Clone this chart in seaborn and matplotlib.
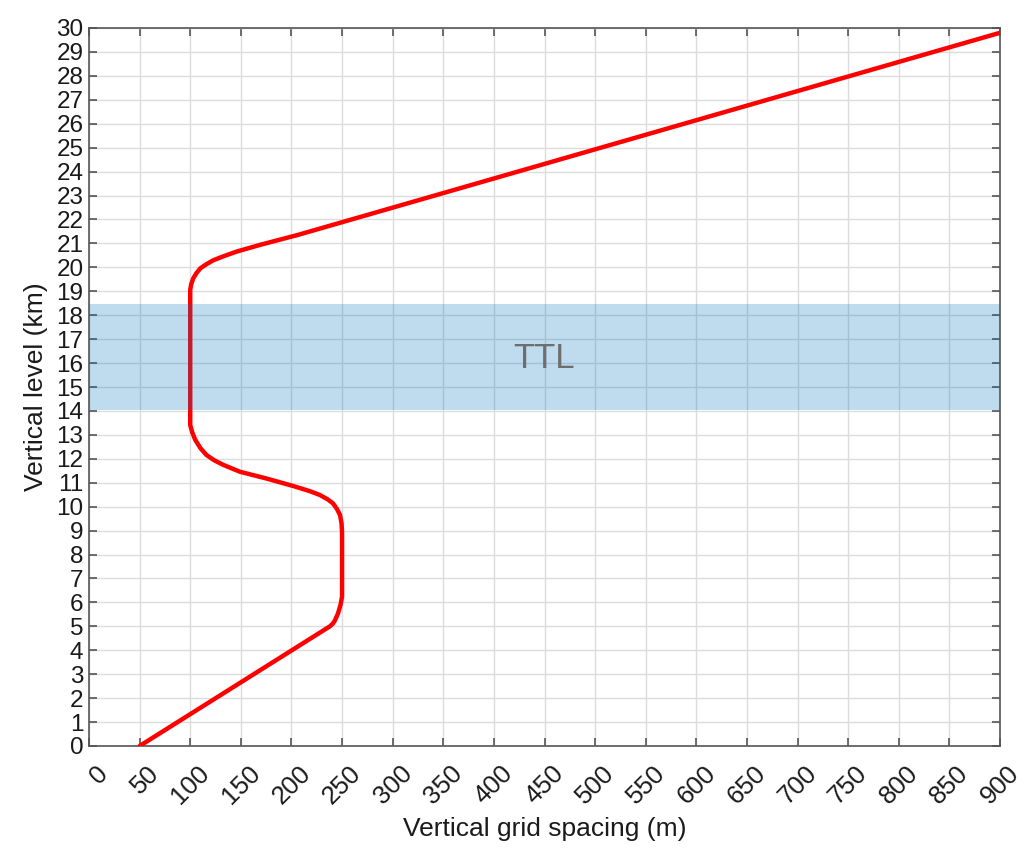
import numpy as np
import pandas as pd
import matplotlib
matplotlib.use("Agg")
import matplotlib.pyplot as plt
import matplotlib.transforms as mtransforms
import seaborn as sns

# Data
spacing_m = [50, 238, 241, 243, 246, 248.5, 250, 250, 249.5, 248, 245, 241, 236, 228, 218,
             202, 175, 149, 133, 124, 116, 110, 105, 102, 100,
             100, 101, 103, 106, 110, 116, 123, 134, 146, 170, 206, 900]
level_km = [0.0, 5.0, 5.12, 5.25, 5.54, 5.9, 6.24, 8.9, 9.3, 9.65, 9.9, 10.14, 10.3, 10.49, 10.65,
            10.86, 11.18, 11.46, 11.74, 11.93, 12.16, 12.45, 12.79, 13.1, 13.41,
            19.06, 19.3, 19.54, 19.75, 19.96, 20.13, 20.3, 20.48, 20.66, 20.95, 21.35, 29.8]
ttl_band = [14.05, 18.47]
ttl_label = "TTL"
x_ticks = list(range(0, 901, 50))
y_ticks = list(range(0, 31, 1))

sns.set_theme(style="white")
plt.rcParams['font.family'] = ['Liberation Sans', 'DejaVu Sans']

fig = plt.figure(figsize=(10.33, 8.61), dpi=100)
ax = fig.add_axes([89/1033, 1-746/861, (1000-89)/1033, (746-28)/861])

df = pd.DataFrame({"spacing": spacing_m, "level": level_km})
sns.lineplot(data=df, x="spacing", y="level", sort=False, estimator=None,
             color="#ff0000", lw=3.2, ax=ax, zorder=3)
ax.lines[-1].set_solid_joinstyle("round")
ax.lines[-1].set_solid_capstyle("round")

ax.axhspan(ttl_band[0], ttl_band[1], color=(0, 0.447, 0.741), alpha=0.25, lw=0, zorder=4)
ax.text(450, 16.2, ttl_label, fontsize=25, color="#6e6e6e", ha="center", va="center", zorder=5)

ax.set_xlim(0, 900)
ax.set_ylim(0, 30)
ax.set_xticks(x_ticks)
ax.set_yticks(y_ticks)
ax.set_xticklabels([str(t) for t in x_ticks], rotation=45, ha="right", rotation_mode="anchor")
ax.grid(True, color="#dcdcdc", lw=1.0, zorder=0)
ax.set_axisbelow(True)

for s in ax.spines.values():
    s.set_visible(True)
    s.set_color("#555555")
    s.set_linewidth(1.2)

ax.tick_params(axis="both", direction="in", length=6, width=1.2, color="#555555",
               labelsize=17.5, labelcolor="#1a1a1a", top=True, right=True,
               bottom=True, left=True)
ax.tick_params(axis="x", pad=11, labelsize=18.5)
ax.tick_params(axis="y", pad=4)

offset = mtransforms.ScaledTranslation(7/100, 0, fig.dpi_scale_trans)
for lbl in ax.get_xticklabels():
    lbl.set_transform(lbl.get_transform() + offset)

ax.set_xlabel("Vertical grid spacing (m)", fontsize=19, color="#1a1a1a", labelpad=6)
ax.set_ylabel("Vertical level (km)", fontsize=19, color="#1a1a1a", labelpad=6)

fig.savefig("out.png", dpi=100)
